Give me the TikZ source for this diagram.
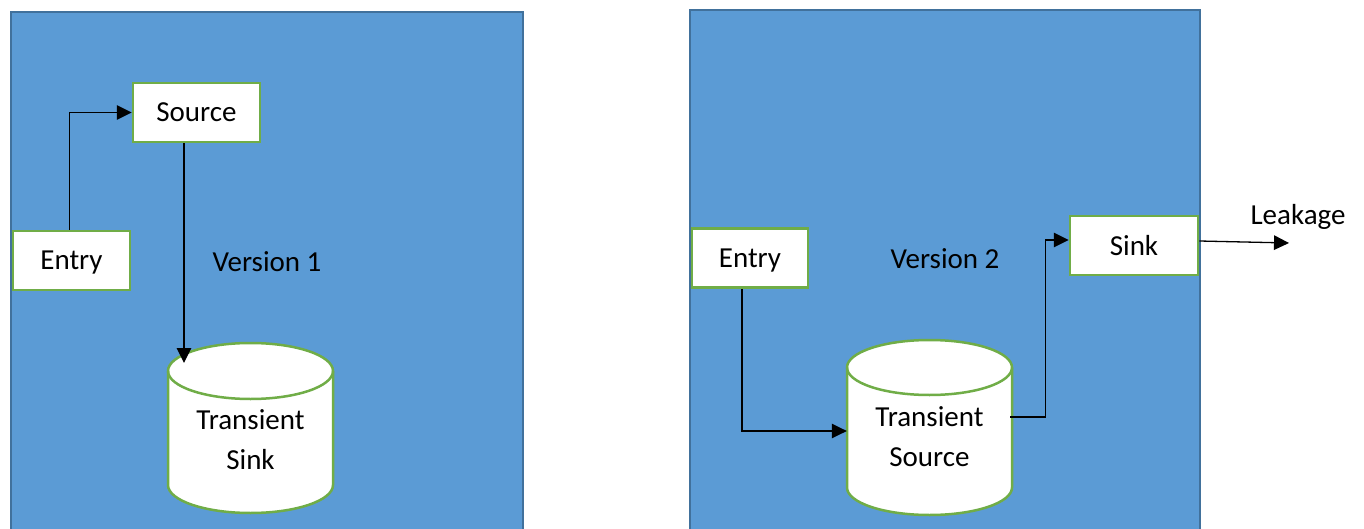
\documentclass[tikz,border=0pt]{standalone}
\usepackage{fontspec}
\setmainfont{Carlito}
\usetikzlibrary{arrows.meta}
\definecolor{panelblue}{HTML}{5B9BD5}
\definecolor{paneledge}{HTML}{41719C}
\definecolor{boxgreen}{HTML}{70AD47}
\tikzset{
  box/.style={draw=boxgreen, line width=2.5pt, fill=white, minimum height=59pt, inner sep=0pt, text depth=0pt},
  drum/.style={draw=boxgreen, line width=2.5pt, fill=white},
  flow/.style={line width=1.3pt, -{Triangle[length=15pt,width=14.5pt]}}
}
\begin{document}
\begin{tikzpicture}[x=1pt,y=1pt,font=\fontsize{29}{40}\selectfont]
\useasboundingbox (0,0) rectangle (1364,-529);
\fill[panelblue] (11,-12) rectangle (523,-535);
\draw[paneledge, line width=2pt] (11,-535) -- (11,-12) -- (523,-12) -- (523,-535);
\fill[panelblue] (690,-10) rectangle (1200,-535);
\draw[paneledge, line width=2pt] (690,-535) -- (690,-10) -- (1200,-10) -- (1200,-535);
\filldraw[drum] (168,-371) -- (168,-485) arc[start angle=180, end angle=360, x radius=82.5, y radius=28] -- (333,-371) arc[start angle=0, end angle=180, x radius=82.5, y radius=28] -- cycle;
\draw[drum, fill=none] (168,-371) arc[start angle=180, end angle=360, x radius=82.5, y radius=28];
\filldraw[drum] (847,-367.5) -- (847,-487.5) arc[start angle=180, end angle=360, x radius=82.5, y radius=27.5] -- (1012,-367.5) arc[start angle=0, end angle=180, x radius=82.5, y radius=27.5] -- cycle;
\draw[drum, fill=none] (847,-367.5) arc[start angle=180, end angle=360, x radius=82.5, y radius=27.5];
\node[box, minimum width=127pt] (sourceL) at (196.5,-112.5) {Source};
\node[box, minimum width=117pt] (entryL) at (71.5,-260.5) {Entry};
\node (version1) at (267,-262) {Version 1};
\node[align=center, minimum width=165pt] (sinkL) at (250.5,-440) {Transient\\Sink};
\coordinate (sinkTop) at (184,-363);
\node[box, minimum width=116pt] (entryR) at (750,-258) {Entry};
\node (version2) at (945,-259) {Version 2};
\node[box, minimum width=128pt] (sinkR) at (1134,-245.5) {Sink};
\node (leakage) at (1298,-217) {Leakage};
\node[align=center, minimum width=165pt] (sourceR) at (929.5,-437) {Transient\\Source};
\coordinate (leakEnd) at (1289,-243);
\draw[flow] ([xshift=-2pt]entryL.north) |- (sourceL.west);
\draw[flow] ([xshift=-12.5pt]sourceL.south) -- (sinkTop);
\draw[flow] ([xshift=-8pt]entryR.south) |- ([yshift=6pt]sourceR.west);
\draw[flow] ([xshift=-2pt,yshift=20pt]sourceR.east) -| ([xshift=-23pt,yshift=5.5pt]sinkR.west) -- ([yshift=5.5pt]sinkR.west);
\draw[flow] ([yshift=4.5pt]sinkR.east) -- (leakEnd);
\end{tikzpicture}
\end{document}
